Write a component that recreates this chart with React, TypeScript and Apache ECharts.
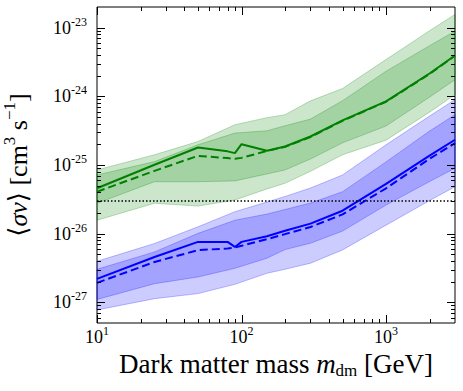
import React, { useEffect, useRef } from "react";
import * as echarts from "echarts";

// ---- data ----
const lineMass = [10, 25, 50, 80, 90, 100, 150, 200, 300, 500, 1000, 2000, 3000];
const greenObs = [4.58e-26, 1.01e-25, 1.8e-25, 1.58e-25, 1.49e-25, 2.01e-25, 1.61e-25, 1.86e-25, 2.6e-25, 4.46e-25, 8.45e-25, 2.15e-24, 3.94e-24];
const greenExp = [4.08e-26, 8.22e-26, 1.36e-25, 1.26e-25, 1.23e-25, 1.27e-25, 1.6e-25, 1.84e-25, 2.56e-25, 4.4e-25, 8.35e-25, 2.12e-24, 3.9e-24];
const blueObs = [2.2e-27, 4.58e-27, 7.59e-27, 7.59e-27, 6.41e-27, 7.59e-27, 9.18e-27, 1.1e-26, 1.4e-26, 2.16e-26, 5.3e-26, 1.37e-25, 2.33e-25];
const blueExp = [1.92e-27, 3.87e-27, 5.74e-27, 6.1e-27, 6.28e-27, 6.65e-27, 8.32e-27, 9.84e-27, 1.25e-26, 1.91e-26, 4.58e-26, 1.23e-25, 2.08e-25];

const bandMass = [10, 25, 50, 90, 150, 200, 300, 500, 1000, 2000, 3000];
const greenHi2 = [8.47e-26, 1.41e-25, 2.2e-25, 3.86e-25, 4.89e-25, 5.4e-25, 8.59e-25, 1.3e-24, 3.44e-24, 9.04e-24, 1.56e-23];
const greenHi1 = [7.16e-26, 1.12e-25, 1.97e-25, 2.92e-25, 3.15e-25, 3.73e-25, 4.66e-25, 8.65e-25, 2.32e-24, 5.47e-24, 8.92e-24];
const greenLo1 = [2.77e-26, 5.71e-26, 5.71e-26, 5.86e-26, 7.41e-26, 8.47e-26, 1.22e-25, 2.1e-25, 3.7e-25, 9.73e-25, 1.75e-24];
const greenLo2 = [1.57e-26, 2.77e-26, 2.52e-26, 3.09e-26, 4.48e-26, 5.42e-26, 8.09e-26, 1.41e-25, 2.3e-25, 5.88e-25, 1.06e-24];
const blueHi2 = [3.96e-27, 7.19e-27, 1.26e-26, 2.09e-26, 2.89e-26, 3.48e-26, 4.62e-26, 7.16e-26, 1.97e-25, 5.16e-25, 8.95e-25];
const blueHi1 = [3.03e-27, 5.42e-27, 1.01e-26, 1.57e-26, 1.93e-26, 2.25e-26, 2.79e-26, 4.08e-26, 1.11e-25, 3.12e-25, 5.4e-25];
const blueLo1 = [1.1e-27, 1.87e-27, 2.34e-27, 3.13e-27, 4.39e-27, 5.86e-27, 7.26e-27, 1.09e-26, 2.61e-26, 5.74e-26, 8.97e-26];
const blueLo2 = [7.74e-28, 1.13e-27, 1.34e-27, 1.83e-27, 2.65e-27, 3.03e-27, 3.71e-27, 5.8e-27, 1.33e-26, 3.03e-26, 4.83e-26];

const thermalXsec = 3e-26;

const X_MIN = 10;
const X_MAX = 3000;
const Y_MIN = 5e-28;
const Y_MAX = 2e-23;

const xMajorTicks = [10, 100, 1000];
const xMinorTicks = [20, 30, 40, 50, 60, 70, 80, 90, 200, 300, 400, 500, 600, 700, 800, 900, 2000];
const yMajorTicks = [1e-27, 1e-26, 1e-25, 1e-24, 1e-23];
const yMinorMultipliers = [2, 3, 4, 5, 6, 7, 8, 9];
const yMinorDecades = [1e-28, 1e-27, 1e-26, 1e-25, 1e-24, 1e-23];

const FONT = '"Liberation Serif", "DejaVu Serif", serif';

function powLabel(v: number): string {
  const l = Math.log10(v);
  const e = Math.round(l);
  if (Math.abs(l - e) > 1e-6) return "";
  return `{b|10}{s|${e < 0 ? "-" + -e : e}}`;
}

const labelRich = {
  b: { fontFamily: FONT, fontSize: 18, lineHeight: 24, color: "#000" },
  s: { fontFamily: FONT, fontSize: 12, lineHeight: 14, verticalAlign: "top", color: "#000" },
};

function bandSeries(upper: number[], lower: number[], fill: string, edge: string, z: number) {
  return {
    type: "custom",
    silent: true,
    z,
    data: [[bandMass[0], upper[0]]],
    renderItem: (_params: any, api: any) => {
      const pts: number[][] = [];
      bandMass.forEach((m, i) => pts.push(api.coord([m, upper[i]])));
      for (let i = bandMass.length - 1; i >= 0; i--) pts.push(api.coord([bandMass[i], lower[i]]));
      return {
        type: "polygon",
        shape: { points: pts },
        style: { fill, stroke: edge, lineWidth: 1 },
      };
    },
  };
}

function lineSeries(ys: number[], color: string, dashed: boolean) {
  return {
    type: "line",
    silent: true,
    z: 5,
    showSymbol: false,
    symbol: "none",
    data: lineMass.map((m, i) => [m, ys[i]]),
    lineStyle: { color, width: 2, type: dashed ? [8, 4] : "solid" },
  };
}

export default function App() {
  const ref = useRef<HTMLDivElement>(null);
  useEffect(() => {
    if (!ref.current) return;
    const chart = echarts.init(ref.current, undefined, { renderer: "svg" });

    const yMinorTicks: number[] = [];
    yMinorDecades.forEach((d) =>
      yMinorMultipliers.forEach((k) => {
        const v = d * k;
        if (v > Y_MIN && v < Y_MAX) yMinorTicks.push(v);
      })
    );

    const tickSeries = {
      type: "custom",
      silent: true,
      z: 10,
      data: [[X_MIN, Y_MIN]],
      renderItem: (params: any, api: any) => {
        const cs = params.coordSys;
        const top = cs.y;
        const bottom = cs.y + cs.height;
        const left = cs.x;
        const right = cs.x + cs.width;
        const children: any[] = [];
        const ln = (x1: number, y1: number, x2: number, y2: number) => ({
          type: "line",
          shape: { x1, y1, x2, y2 },
          style: { stroke: "#000", lineWidth: 1 },
        });
        const addX = (v: number, len: number) => {
          const px = Math.round(api.coord([v, Y_MIN])[0]) + 0.5;
          children.push(ln(px, bottom, px, bottom - len));
          children.push(ln(px, top, px, top + len));
        };
        const addY = (v: number, len: number) => {
          const py = Math.round(api.coord([X_MIN, v])[1]) + 0.5;
          children.push(ln(left, py, left + len, py));
          children.push(ln(right, py, right - len, py));
        };
        xMajorTicks.forEach((v) => addX(v, 8));
        xMinorTicks.forEach((v) => addX(v, 4));
        yMajorTicks.forEach((v) => addY(v, 8));
        yMinorTicks.forEach((v) => addY(v, 4));
        return { type: "group", children };
      },
    };

    chart.setOption({
      animation: false,
      backgroundColor: "#fff",
      grid: {
        left: 97,
        top: 7,
        right: 8,
        bottom: 68,
        show: true,
        borderColor: "#000",
        borderWidth: 1,
        backgroundColor: "transparent",
        outerBoundsMode: "none",
      },
      xAxis: {
        type: "log",
        logBase: 10,
        min: X_MIN,
        max: X_MAX,
        axisLine: { show: false },
        axisTick: { show: false },
        splitLine: { show: false },
        axisLabel: {
          margin: 2,
          showMinLabel: true,
          showMaxLabel: false,
          formatter: (v: number) => powLabel(v),
          rich: labelRich,
        },
        name: "{t|Dark matter mass }{i|m}{sub|dm}{t| [GeV]}",
        nameLocation: "middle",
        nameGap: 26,
        nameTextStyle: {
          fontFamily: FONT,
          fontSize: 27,
          color: "#000",
          rich: {
            t: { fontFamily: FONT, fontSize: 27, lineHeight: 30, color: "#000" },
            i: { fontFamily: FONT, fontSize: 27, lineHeight: 30, fontStyle: "italic", color: "#000" },
            sub: { fontFamily: FONT, fontSize: 17, verticalAlign: "bottom", lineHeight: 12, color: "#000" },
          },
        },
      },
      yAxis: {
        type: "log",
        logBase: 10,
        min: Y_MIN,
        max: Y_MAX,
        axisLine: { show: false },
        axisTick: { show: false },
        splitLine: { show: false },
        axisLabel: {
          margin: 10,
          showMinLabel: false,
          showMaxLabel: false,
          formatter: (v: number) => powLabel(v),
          rich: labelRich,
        },
        name: "{t|⟨}{i|σv}{t|⟩ [cm}{s|3}{t| s}{s|−1}{t|]}",
        nameLocation: "middle",
        nameRotate: 90,
        nameGap: 62,
        nameTextStyle: {
          fontFamily: FONT,
          fontSize: 26,
          color: "#000",
          rich: {
            t: { fontFamily: FONT, fontSize: 26, lineHeight: 34, color: "#000" },
            i: { fontFamily: FONT, fontSize: 26, lineHeight: 34, fontStyle: "italic", color: "#000" },
            s: { fontFamily: FONT, fontSize: 17, lineHeight: 20, verticalAlign: "top", color: "#000" },
          },
        },
      },
      series: [
        bandSeries(greenHi2, greenLo2, "rgba(0,128,0,0.2)", "rgba(0,128,0,0.25)", 1),
        bandSeries(greenHi1, greenLo1, "rgba(0,128,0,0.2)", "rgba(0,128,0,0.25)", 2),
        bandSeries(blueHi2, blueLo2, "rgba(0,0,255,0.2)", "rgba(0,0,255,0.25)", 1),
        bandSeries(blueHi1, blueLo1, "rgba(0,0,255,0.2)", "rgba(0,0,255,0.25)", 2),
        lineSeries(greenObs, "#008000", false),
        lineSeries(greenExp, "#008000", true),
        lineSeries(blueObs, "#0000ff", false),
        lineSeries(blueExp, "#0000ff", true),
        {
          type: "line",
          silent: true,
          z: 6,
          showSymbol: false,
          symbol: "none",
          data: [
            [X_MIN, thermalXsec],
            [X_MAX, thermalXsec],
          ],
          lineStyle: { color: "#000", width: 1.5, type: [1.5, 2] },
        },
        tickSeries,
      ],
    });
    return () => chart.dispose();
  }, []);
  return (
    <div
      ref={ref}
      style={{ position: "fixed", left: 0, top: 0, width: 463, height: 391, background: "#fff" }}
    />
  );
}
